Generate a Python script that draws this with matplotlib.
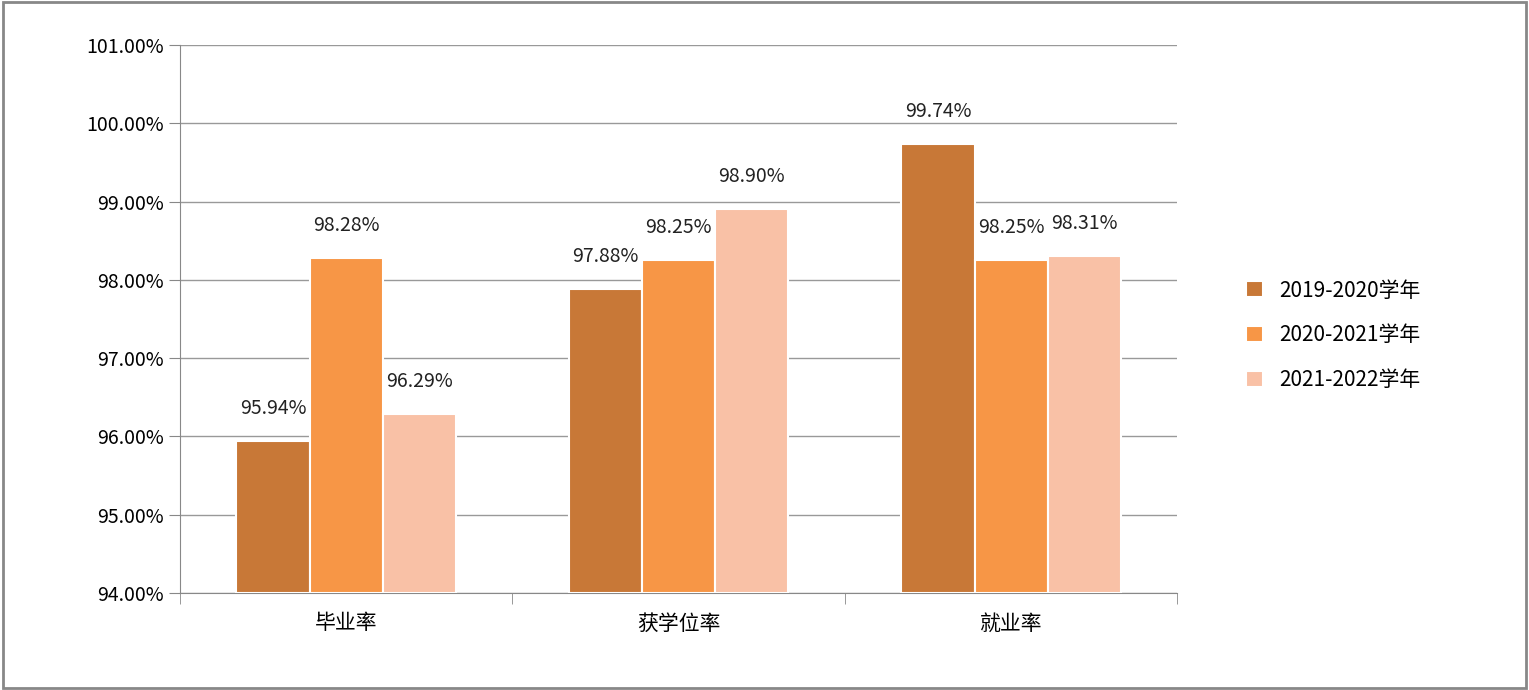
import matplotlib.pyplot as plt
import numpy as np
from matplotlib.patches import Rectangle

plt.rcParams['font.family'] = ['Noto Sans CJK SC', 'DejaVu Sans']

categories = ['毕业率', '获学位率', '就业率']
series_names = ['2019-2020学年', '2020-2021学年', '2021-2022学年']
values = [
    [95.94, 97.88, 99.74],
    [98.28, 98.25, 98.25],
    [96.29, 98.90, 98.31],
]
colors = ['#C87837', '#F79646', '#F9C1A6']

fig = plt.figure(figsize=(15.29, 6.9), dpi=100)
fig.patches.append(Rectangle((0.002, 0.003), 0.996, 0.994, transform=fig.transFigure,
                             fill=False, edgecolor='#888888', linewidth=2))
ax = fig.add_axes([0.1177, 0.1406, 0.6523, 0.7942])

x = np.arange(len(categories))
width = 0.22
for i, (name, vals) in enumerate(zip(series_names, values)):
    pos = x + (i - 1) * width
    ax.bar(pos, [v - 94 for v in vals], width, bottom=94, color=colors[i],
           edgecolor='white', linewidth=1.5, label=name, zorder=3)
    for p, v in zip(pos, vals):
        ax.text(p, v + 0.28, f'{v:.2f}%', ha='center', va='bottom', fontsize=14,
                color='#222222', zorder=4)

ax.set_ylim(94, 101)
ax.set_xlim(-0.5, 2.5)
ax.set_yticks(np.arange(94, 101.01, 1))
ax.set_yticklabels([f'{t:.2f}%' for t in np.arange(94, 101.01, 1)], fontsize=14)
ax.set_xticks(x)
ax.set_xticklabels(categories, fontsize=15)
ax.set_xticks([-0.5, 0.5, 1.5, 2.5], minor=True)
ax.tick_params(axis='x', which='major', length=0, pad=14)
ax.tick_params(axis='x', which='minor', length=8, color='#888888')
ax.tick_params(axis='y', length=8, color='#888888', direction='out')
ax.grid(axis='y', color='#999999', linewidth=1, zorder=0)
for s in ['top', 'right']:
    ax.spines[s].set_visible(False)
for s in ['left', 'bottom']:
    ax.spines[s].set_color('#888888')

ax.legend(loc='center left', bbox_to_anchor=(1.05, 0.47), frameon=False,
          fontsize=15, handlelength=0.8, handleheight=0.8, labelspacing=1.1)

fig.savefig('out.png', dpi=100)
